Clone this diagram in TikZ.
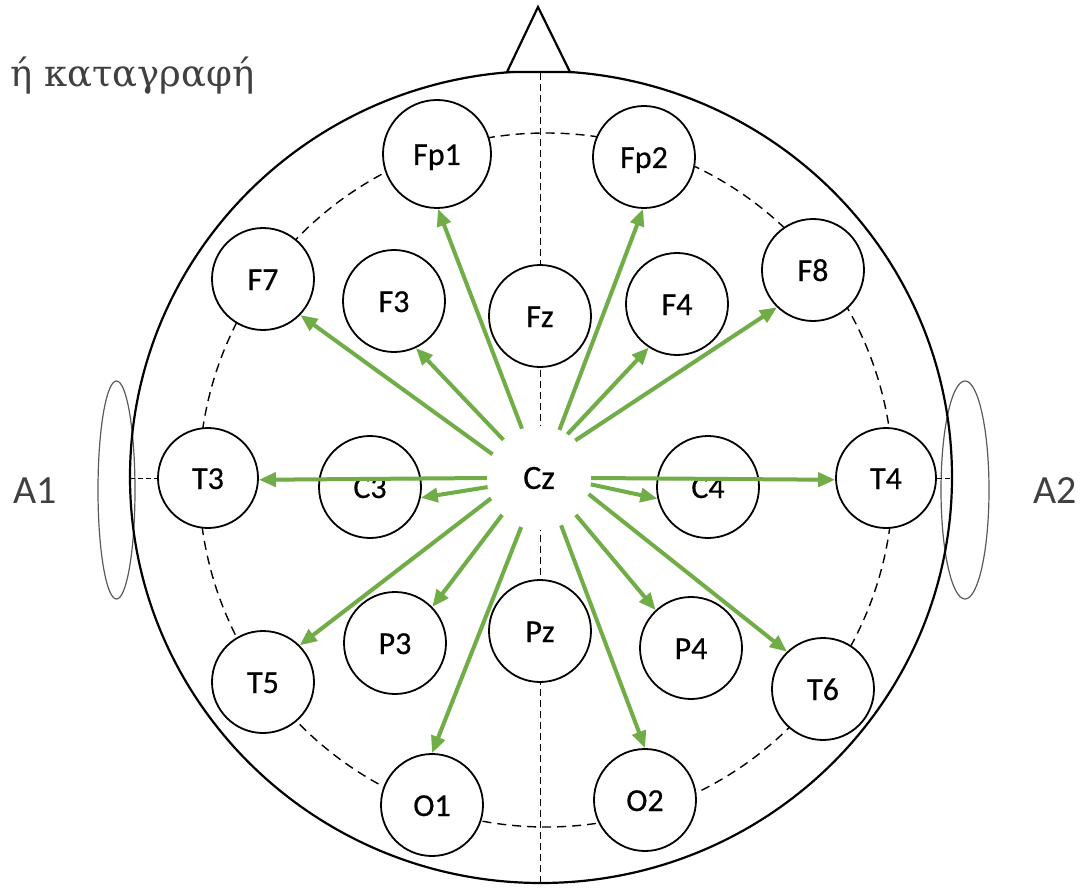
\documentclass[tikz,border=0pt]{standalone}
\usepackage{fontspec}
\setmainfont{Carlito}
\newfontfamily\titleserif{DejaVu Serif}
\newfontfamily\electrodefont{Carlito}[FakeBold=0.5]
\usetikzlibrary{arrows.meta}
\definecolor{leadgreen}{RGB}{112,173,71}
\definecolor{labelgray}{RGB}{64,64,64}
\definecolor{eargray}{RGB}{90,90,90}

\begin{document}
\begin{tikzpicture}[x=1pt,y=-1pt,
  headline/.style={draw=black, line width=2.2pt},
  earline/.style={draw=eargray, line width=1.2pt},
  ringline/.style={draw=black, line width=1.4pt, dash pattern=on 9pt off 6pt},
  midline/.style={draw=black, line width=1pt, dash pattern=on 7pt off 4pt},
  sideline/.style={draw=black, line width=1pt, dash pattern=on 5pt off 3pt},
  electrode/.style={circle, draw=black, line width=1.8pt, fill=white,
    minimum size=102pt, inner sep=0pt, text height=22pt, text depth=0pt,
    font=\electrodefont\fontsize{32}{32}\selectfont},
  refnode/.style={circle, fill=white, minimum size=104pt, inner sep=0pt,
    font=\electrodefont\fontsize{34}{34}\selectfont},
  earlabel/.style={text=labelgray, inner sep=0pt, font=\fontsize{40}{40}\selectfont},
  montage/.style={draw=leadgreen, line width=4pt,
    -{Triangle[length=17pt,width=14pt]},
    preaction={draw=black, opacity=0.12,
      transform canvas={shift={(1.5pt,-1.5pt)}}}}
]
\useasboundingbox (0,0) rectangle (1080,888);

% head outline, ears and nose
\draw[earline] (116.5,490) ellipse [x radius=18.5, y radius=109];
\draw[earline] (965,490) ellipse [x radius=24, y radius=109];
\draw[headline] (541,477) ellipse [x radius=411, y radius=406];
\draw[headline, fill=white, line join=miter] (507,72) -- (538,7) -- (570,72) -- cycle;

% dashed electrode ring and midline
\draw[ringline] (546,480) circle [radius=347];
\draw[midline] (540,73) -- (540,883);

% title
\node[anchor=base west, inner sep=0pt, text=labelgray] (title) at (10,87)
  {\titleserif\fontsize{37}{37}\selectfont ή καταγραφή};

% ear references
\node[earlabel] (a1) at (35,491) {A1};
\node[earlabel] (a2) at (1055,491) {A2};

% electrodes
\node[electrode, minimum size=108pt] (fp1) at (437,154) {Fp1};
\node[electrode] (fp2) at (644,157) {Fp2};
\node[electrode] (f7)  at (263,279) {F7};
\node[electrode] (f3)  at (394,301) {F3};
\node[electrode] (fz)  at (540,316) {Fz};
\node[electrode] (f4)  at (677,304) {F4};
\node[electrode] (f8)  at (813,270) {F8};
\node[electrode, minimum size=100pt] (t3) at (208,478) {T3};
\node[electrode] (c3)  at (370,487) {C3};
\node[electrode] (c4)  at (708,487) {C4};
\node[electrode, minimum size=100pt] (t4) at (886,478) {T4};
\node[electrode] (t5)  at (263,682) {T5};
\node[electrode] (p3)  at (395,643) {P3};
\node[electrode] (pz)  at (540,631) {Pz};
\node[electrode] (p4)  at (691,648) {P4};
\node[electrode] (t6)  at (823,689) {T6};
\node[electrode] (o1)  at (432,805) {O1};
\node[electrode] (o2)  at (645,800) {O2};
\node[refnode] (cz) at (539,478) {Cz};

% short dashes from the head outline to T3 and T4
\coordinate (lefttip) at (130,478);
\coordinate (righttip) at (952,478);
\draw[sideline] (lefttip) -- (t3.west);
\draw[sideline] (t4.east) -- (righttip);

% leads from the Cz reference
\draw[montage] (cz.109.4)  -- (fp1.271);
\draw[montage] (cz.153.9)  -- (f7.-44.2);
\draw[montage] (cz.133.5)  -- (f3.-65.8);
\draw[montage] (cz.67.6)   -- (fp2.-91);
\draw[montage] (cz.57.8)   -- (f4.-123.4);
\draw[montage] (cz.46.5)   -- (f8.-134.2);
\draw[montage] (cz.0)      -- (t4.182);
\draw[montage] (cz.-7.8)   -- (c4.-167.6);
\draw[montage] (cz.-18.4)  -- (t6.134.2);
\draw[montage] (cz.-45)    -- (p4.133.5);
\draw[montage] (cz.-65)    -- (o2.90);
\draw[montage] (cz.-110.7) -- (o1.90);
\draw[montage] (cz.-135.8) -- (p3.44.2);
\draw[montage] (cz.-157)   -- (t5.45);
\draw[montage] (cz.-170.5) -- (c3.-12);
\draw[montage] (cz.180)    -- (t3.-2.3);
\end{tikzpicture}
\end{document}
